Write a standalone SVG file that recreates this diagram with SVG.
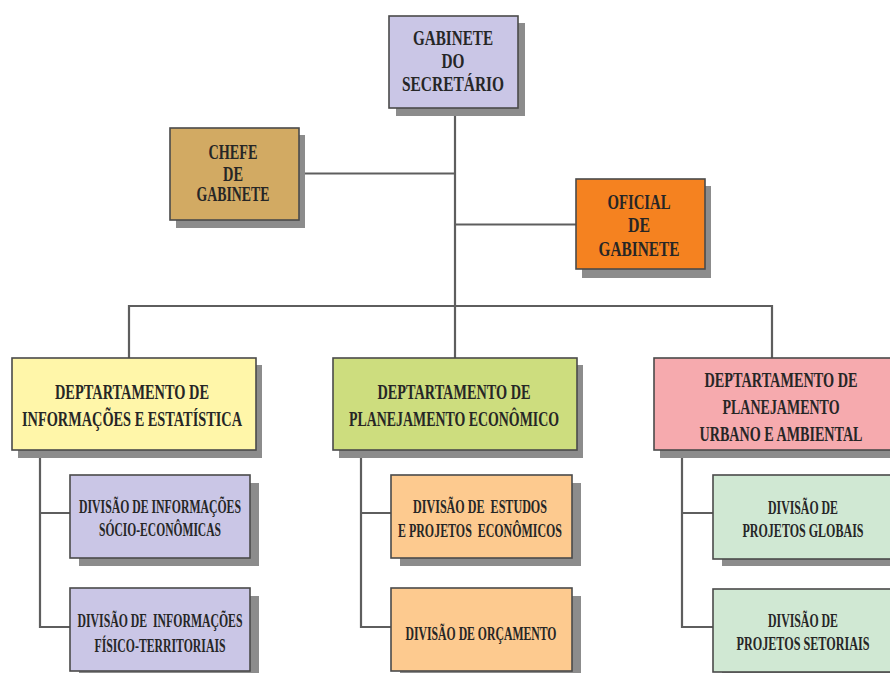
<svg xmlns="http://www.w3.org/2000/svg" width="890" height="673" viewBox="0 0 890 673">
<style>
.bx{stroke:#4a4a4a;stroke-width:1.6}
.sh{fill:#8c8c8c}
.t{font-family:"Liberation Serif","Times New Roman",serif;font-weight:bold;fill:#262626;text-anchor:middle;white-space:pre}
.f21{font-size:21px}.f20{font-size:20px}.f205{font-size:20.5px}.f185{font-size:18.5px}
.ln{stroke:#5e5e5e;stroke-width:2.2;fill:none}
</style>
<rect width="890" height="673" fill="#ffffff"/>
<g id="connectors">
<path class="ln" d="M455 108 V358"/>
<path class="ln" d="M299 173.5 H455"/>
<path class="ln" d="M455 224.5 H576"/>
<path class="ln" d="M129 358 V306 H772 V358"/>
<path class="ln" d="M40 450 V627 H70 M40 513 H70"/>
<path class="ln" d="M361 450 V627 H391 M361 513 H391"/>
<path class="ln" d="M682 450 V627 H713 M682 513 H713"/>
</g>
<g id="gabinete-secretario">
<rect class="sh" x="396" y="23" width="129" height="93"/>
<rect class="bx" x="389" y="16" width="129" height="92" fill="#cac6e6"/>
<text class="t f21" transform="matrix(0.72 0 0 1 453 44.5)" textLength="111.1" lengthAdjust="spacingAndGlyphs">GABINETE</text>
<text class="t f21" transform="matrix(0.72 0 0 1 453 67.5)" textLength="31.9" lengthAdjust="spacingAndGlyphs">DO</text>
<text class="t f21" transform="matrix(0.72 0 0 1 453 91)" textLength="141.7" lengthAdjust="spacingAndGlyphs">SECRETÁRIO</text>
</g>
<g id="chefe-gabinete">
<rect class="sh" x="176" y="135" width="129" height="93"/>
<rect class="bx" x="170" y="128" width="129" height="92" fill="#d2aa63"/>
<text class="t f20" transform="matrix(0.72 0 0 1 233 159)" textLength="68.1" lengthAdjust="spacingAndGlyphs">CHEFE</text>
<text class="t f20" transform="matrix(0.72 0 0 1 233 180.5)" textLength="27.8" lengthAdjust="spacingAndGlyphs">DE</text>
<text class="t f20" transform="matrix(0.72 0 0 1 233 201)" textLength="101.4" lengthAdjust="spacingAndGlyphs">GABINETE</text>
</g>
<g id="oficial-gabinete">
<rect class="sh" x="582" y="186" width="129" height="92"/>
<rect class="bx" x="576" y="179" width="129" height="90" fill="#f58220"/>
<text class="t f21" transform="matrix(0.72 0 0 1 639 208.5)" textLength="87.5" lengthAdjust="spacingAndGlyphs">OFICIAL</text>
<text class="t f21" transform="matrix(0.72 0 0 1 639 232)" textLength="30.6" lengthAdjust="spacingAndGlyphs">DE</text>
<text class="t f21" transform="matrix(0.72 0 0 1 639 255.5)" textLength="112.5" lengthAdjust="spacingAndGlyphs">GABINETE</text>
</g>
<g id="dept-informacoes">
<rect class="sh" x="18" y="365" width="244" height="93"/>
<rect class="bx" x="12" y="358" width="244" height="92" fill="#fff6a9"/>
<text class="t f205" transform="matrix(0.72 0 0 1 132 399)" textLength="213.9" lengthAdjust="spacingAndGlyphs">DEPTARTAMENTO DE</text>
<text class="t f205" transform="matrix(0.72 0 0 1 132 426)" textLength="305.6" lengthAdjust="spacingAndGlyphs">INFORMAÇÕES E ESTATÍSTICA</text>
</g>
<g id="dept-planejamento-economico">
<rect class="sh" x="339" y="365" width="244" height="93"/>
<rect class="bx" x="333" y="358" width="244" height="92" fill="#cddd7e"/>
<text class="t f205" transform="matrix(0.72 0 0 1 454 399)" textLength="212.5" lengthAdjust="spacingAndGlyphs">DEPTARTAMENTO DE</text>
<text class="t f205" transform="matrix(0.72 0 0 1 454 426)" textLength="291.7" lengthAdjust="spacingAndGlyphs">PLANEJAMENTO ECONÔMICO</text>
</g>
<g id="dept-planejamento-urbano">
<rect class="sh" x="660" y="365" width="254" height="93"/>
<rect class="bx" x="654" y="358" width="254" height="92" fill="#f6aaae"/>
<text class="t f205" transform="matrix(0.72 0 0 1 781 386.5)" textLength="212.5" lengthAdjust="spacingAndGlyphs">DEPTARTAMENTO DE</text>
<text class="t f205" transform="matrix(0.72 0 0 1 781 413.5)" textLength="162.5" lengthAdjust="spacingAndGlyphs">PLANEJAMENTO</text>
<text class="t f205" transform="matrix(0.72 0 0 1 781 440.5)" textLength="226.4" lengthAdjust="spacingAndGlyphs">URBANO E AMBIENTAL</text>
</g>
<g id="div-socio-economicas">
<rect class="sh" x="79" y="483" width="180" height="83"/>
<rect class="bx" x="70" y="475" width="180" height="83" fill="#cac6e6"/>
<text class="t f185" transform="matrix(0.72 0 0 1 160 512.5)" textLength="225" lengthAdjust="spacingAndGlyphs">DIVISÃO DE INFORMAÇÕES</text>
<text class="t f185" transform="matrix(0.72 0 0 1 160 536)" textLength="169.4" lengthAdjust="spacingAndGlyphs">SÓCIO-ECONÔMICAS</text>
</g>
<g id="div-fisico-territoriais">
<rect class="sh" x="79" y="596" width="180" height="83"/>
<rect class="bx" x="70" y="588" width="180" height="83" fill="#cac6e6"/>
<text class="t f185" transform="matrix(0.72 0 0 1 160 627)" textLength="229.2" lengthAdjust="spacingAndGlyphs">DIVISÃO DE  INFORMAÇÕES</text>
<text class="t f185" transform="matrix(0.72 0 0 1 160 651.5)" textLength="181.9" lengthAdjust="spacingAndGlyphs">FÍSICO-TERRITORIAIS</text>
</g>
<g id="div-estudos-projetos">
<rect class="sh" x="400" y="483" width="181" height="83"/>
<rect class="bx" x="391" y="475" width="181" height="83" fill="#fdca8f"/>
<text class="t f185" transform="matrix(0.72 0 0 1 480 512.5)" textLength="186.1" lengthAdjust="spacingAndGlyphs">DIVISÃO DE  ESTUDOS</text>
<text class="t f185" transform="matrix(0.72 0 0 1 480 536.5)" textLength="227.8" lengthAdjust="spacingAndGlyphs">E PROJETOS  ECONÔMICOS</text>
</g>
<g id="div-orcamento">
<rect class="sh" x="400" y="596" width="181" height="83"/>
<rect class="bx" x="391" y="588" width="181" height="83" fill="#fdca8f"/>
<text class="t f185" transform="matrix(0.72 0 0 1 481 640)" textLength="209.7" lengthAdjust="spacingAndGlyphs">DIVISÃO DE ORÇAMENTO</text>
</g>
<g id="div-projetos-globais">
<rect class="sh" x="722" y="483" width="180" height="83"/>
<rect class="bx" x="713" y="475" width="180" height="84" fill="#d0e8d3"/>
<text class="t f185" transform="matrix(0.72 0 0 1 803 514)" textLength="97.2" lengthAdjust="spacingAndGlyphs">DIVISÃO DE</text>
<text class="t f185" transform="matrix(0.72 0 0 1 803 536.5)" textLength="168.1" lengthAdjust="spacingAndGlyphs">PROJETOS GLOBAIS</text>
</g>
<g id="div-projetos-setoriais">
<rect class="sh" x="722" y="597" width="180" height="83"/>
<rect class="bx" x="713" y="589" width="180" height="83" fill="#d0e8d3"/>
<text class="t f185" transform="matrix(0.72 0 0 1 803 627)" textLength="97.2" lengthAdjust="spacingAndGlyphs">DIVISÃO DE</text>
<text class="t f185" transform="matrix(0.72 0 0 1 803 650)" textLength="184.7" lengthAdjust="spacingAndGlyphs">PROJETOS SETORIAIS</text>
</g>
</svg>
